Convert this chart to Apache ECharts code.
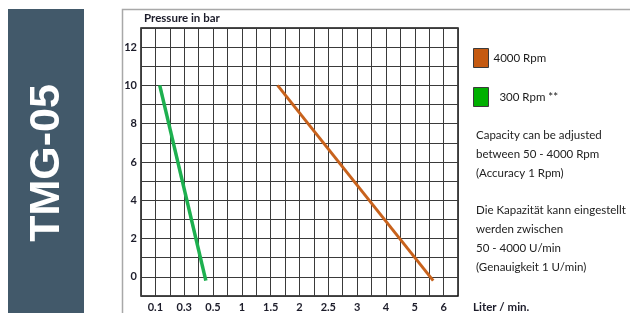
<!DOCTYPE html>
<html>
<head>
<meta charset="utf-8">
<script src="https://cdn.jsdelivr.net/npm/echarts@6/dist/echarts.min.js"></script>
<style>
  html, body { margin: 0; padding: 0; background: #fff; }
  #main { width: 630px; height: 313px; }
</style>
</head>
<body>
<div id="main"></div>
<script>
// tick labels on the flow axis (not evenly spaced in litres)
var flowTicks = [0.1, 0.3, 0.5, 1, 1.5, 2, 2.5, 3, 4, 5, 6];
var pressureTicks = [0, 2, 4, 6, 8, 10, 12];

// curves: flow in l/min, pressure in bar
var flow4000 = [1.62, 5.64];
var pressure4000 = [10, -0.2];
var flow300 = [0.13, 0.45];
var pressure300 = [10, -0.2];

var notesEn = ['Capacity can be adjusted', 'between 50 - 4000 Rpm', '(Accuracy 1 Rpm)'];
var notesDe = ['Die Kapazität kann eingestellt', 'werden zwischen', '50 - 4000 U/min', '(Genauigkeit 1 U/min)'];

// litres -> grid column (tick i sits on column 2i+1)
function toCol(v) {
  for (var i = 0; i < flowTicks.length - 1; i++) {
    var a = flowTicks[i], b = flowTicks[i + 1];
    if (v <= b || i === flowTicks.length - 2) {
      return 2 * i + 1 + (v - a) / (b - a) * 2;
    }
  }
}
function pts(xs, ys) {
  return xs.map(function (x, i) { return [toCol(x), ys[i]]; });
}

var chart = echarts.init(document.getElementById('main'));
var labelFont = { fontFamily: 'Lato', fontWeight: 'bold', fontSize: 11, color: '#1c1c2a' };

var textEls = [];
notesEn.forEach(function (t, i) {
  textEls.push({ type: 'text', left: 476, top: 129 + i * 19,
    style: { text: t, font: '11.5px Lato', fill: '#222' } });
});
notesDe.forEach(function (t, i) {
  textEls.push({ type: 'text', left: 476, top: 204 + i * 19,
    style: { text: t, font: '11.5px Lato', fill: '#222' } });
});

var option = {
  animation: false,
  grid: {
    left: 141, top: 28, width: 317, height: 269.5,
    show: true, borderColor: '#111', borderWidth: 1.5
  },
  xAxis: {
    type: 'value', min: 0, max: 22, interval: 1,
    axisLine: { show: false }, axisTick: { show: false },
    splitLine: { lineStyle: { color: '#3a3a3a', width: 1 } },
    axisLabel: Object.assign({
      margin: 6,
      formatter: function (v) {
        return v % 2 === 1 ? String(flowTicks[(v - 1) / 2]) : '';
      }
    }, labelFont)
  },
  yAxis: {
    type: 'value', min: -1, max: 13, interval: 1,
    axisLine: { show: false }, axisTick: { show: false },
    splitLine: { lineStyle: { color: '#3a3a3a', width: 1 } },
    axisLabel: Object.assign({
      margin: 4,
      formatter: function (v) {
        return pressureTicks.indexOf(v) >= 0 ? String(v) : '';
      }
    }, labelFont)
  },
  legend: {
    orient: 'vertical', left: 473, top: 48, padding: 0, itemWidth: 15, itemHeight: 19,
    itemGap: 19, icon: 'rect',
    textStyle: { fontFamily: 'Lato', fontSize: 11.5, color: '#1a1a1a' },
    formatter: function (n) { return n === '300 Rpm **' ? '  ' + n : n; },
    data: [
      { name: '4000 Rpm', itemStyle: { color: '#c55a11', borderColor: '#3b3b3b', borderWidth: 1 } },
      { name: '300 Rpm **', itemStyle: { color: '#00b000', borderColor: '#3b3b3b', borderWidth: 1 } }
    ]
  },
  series: [
    {
      name: '4000 Rpm', type: 'line', symbol: 'none',
      itemStyle: { color: '#c55a11' },
      lineStyle: { color: '#c8621c', width: 3 },
      data: pts(flow4000, pressure4000)
    },
    {
      name: '300 Rpm **', type: 'line', symbol: 'none',
      itemStyle: { color: '#00b000' },
      lineStyle: { color: '#1db04f', width: 3.5 },
      data: pts(flow300, pressure300)
    }
  ],
  graphic: [
    { type: 'rect', left: 8, top: 9, shape: { width: 76, height: 310 },
      style: { fill: '#42596a' }, z: -1 },
    { type: 'text', x: 47, y: 163, rotation: Math.PI / 2,
      style: { text: 'TMG-05', font: 'bold 43px "Liberation Sans"', fill: '#fff',
        textAlign: 'center', textVerticalAlign: 'middle' } },
    { type: 'polyline', shape: { points: [[122.5, 320], [122.5, 9.5], [640, 9.5]] },
      style: { stroke: '#a8a8a8', lineWidth: 1.5, fill: null } },
    { type: 'text', left: 144, top: 12,
      style: { text: 'Pressure in bar', font: 'bold 11.5px Lato', fill: '#1c1c2a' } },
    { type: 'text', left: 473, top: 301,
      style: { text: 'Liter / min.', font: 'bold 11.5px Lato', fill: '#1c1c2a' } }
  ].concat(textEls)
};
chart.setOption(option);
</script>
</body>
</html>
